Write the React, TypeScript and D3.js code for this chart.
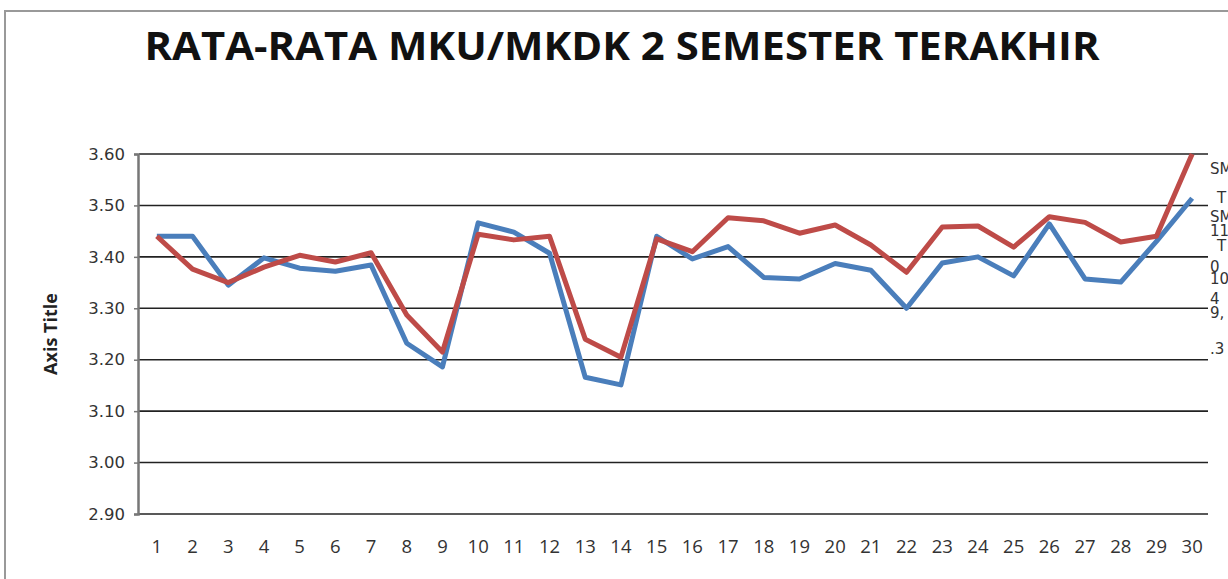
import * as d3 from 'd3';
import { useEffect, useRef } from 'react';

// categories and series
const categories = d3.range(1, 31).map(String);
const seriesBlue = [
  3.44, 3.44, 3.345, 3.398, 3.378, 3.372, 3.384, 3.232, 3.186, 3.466,
  3.448, 3.407, 3.166, 3.151, 3.44, 3.396, 3.42, 3.36, 3.357, 3.387,
  3.374, 3.30, 3.388, 3.40, 3.363, 3.464, 3.357, 3.351, 3.43, 3.514,
];
const seriesRed = [
  3.44, 3.376, 3.35, 3.38, 3.403, 3.39, 3.408, 3.287, 3.215, 3.444,
  3.433, 3.44, 3.24, 3.205, 3.435, 3.41, 3.476, 3.47, 3.446, 3.462,
  3.423, 3.37, 3.458, 3.46, 3.419, 3.478, 3.467, 3.429, 3.44, 3.60,
];
const yTicks = [2.9, 3.0, 3.1, 3.2, 3.3, 3.4, 3.5, 3.6];
// cut-off labels at the right edge of the reference
const sideLabels = ['SM', 'T', 'SM', '11', 'T', '0', '10', '4', '9,', '.3'];
const sideY = [174, 203, 222, 236, 251, 272, 284, 304, 318, 354];

const title = 'RATA-RATA MKU/MKDK 2 SEMESTER TERAKHIR';
const axisTitle = 'Axis Title';

const W = 1228;
const H = 579;
const plot = { left: 139, right: 1210, top: 154, bottom: 514 };

const App = () => {
  const gy = useRef<SVGGElement>(null);
  const gx = useRef<SVGGElement>(null);

  const xScale = d3
    .scaleBand()
    .domain(categories)
    .range([plot.left, plot.right]);
  const yScale = d3
    .scaleLinear()
    .domain([2.9, 3.6])
    .range([plot.bottom, plot.top]);

  const cx = (i: number) => (xScale(categories[i]) ?? 0) + xScale.bandwidth() / 2;
  const line = d3
    .line<number>()
    .x((_, i) => cx(i))
    .y((d) => yScale(d));

  useEffect(() => {
    const g = d3.select(gy.current!);
    g.call(
      d3.axisLeft(yScale).tickValues(yTicks).tickFormat(d3.format('.2f')).tickSize(4).tickPadding(9)
    );
    g.select('.domain').attr('stroke', '#777').attr('stroke-width', 2.5);
    g.selectAll('.tick line').attr('stroke', '#777').attr('stroke-width', 1.5);
    g.selectAll('.tick text')
      .attr('font-family', 'DejaVu Sans')
      .attr('font-size', 16.5)
      .attr('fill', '#333');
  }, []);

  useEffect(() => {
    const g = d3.select(gx.current!);
    g.call(d3.axisBottom(xScale).tickSize(0).tickPadding(26));
    g.select('.domain').remove();
    g.selectAll('.tick text')
      .attr('font-family', 'Open Sans')
      .attr('font-size', 18.5)
      .attr('fill', '#333');
  }, []);

  return (
    <svg
      width={W}
      height={H}
      style={{ position: 'absolute', left: 0, top: 0, background: '#fff' }}
    >
      <rect x={5} y={11} width={W + 20} height={H + 20} fill="#fff" stroke="#999" strokeWidth={2} />
      <text
        x={622}
        y={60}
        textAnchor="middle"
        fontFamily="Open Sans"
        fontWeight="bold"
        fontSize={39}
        textLength={955}
        lengthAdjust="spacingAndGlyphs"
        fill="#111"
      >
        {title}
      </text>
      {yTicks.map((t) => (
        <line
          key={t}
          x1={plot.left}
          x2={1208}
          y1={yScale(t)}
          y2={yScale(t)}
          stroke="#222"
          strokeWidth={1.6}
        />
      ))}
      <g ref={gy} transform={`translate(${plot.left - 1},0)`} />
      <g ref={gx} transform={`translate(0,${plot.bottom})`} />
      <text
        transform={`translate(57,${(plot.top + plot.bottom) / 2}) rotate(-90)`}
        textAnchor="middle"
        fontFamily="Open Sans"
        fontWeight="bold"
        fontSize={18}
        fill="#222"
      >
        {axisTitle}
      </text>
      <path d={line(seriesBlue) ?? ''} fill="none" stroke="#4a7ebb" strokeWidth={5} strokeLinejoin="round" />
      <path d={line(seriesRed) ?? ''} fill="none" stroke="#be4b48" strokeWidth={5} strokeLinejoin="round" />
      <rect x={1209} y={150} width={20} height={430} fill="#fff" opacity={0.7} />
      {sideLabels.map((s, i) => (
        <text
          key={i}
          x={1210 + (s === 'T' ? 7 : 0)}
          y={sideY[i]}
          fontFamily="DejaVu Sans"
          fontSize={15}
          fill="#333"
        >
          {s}
        </text>
      ))}
    </svg>
  );
};

export default App;
